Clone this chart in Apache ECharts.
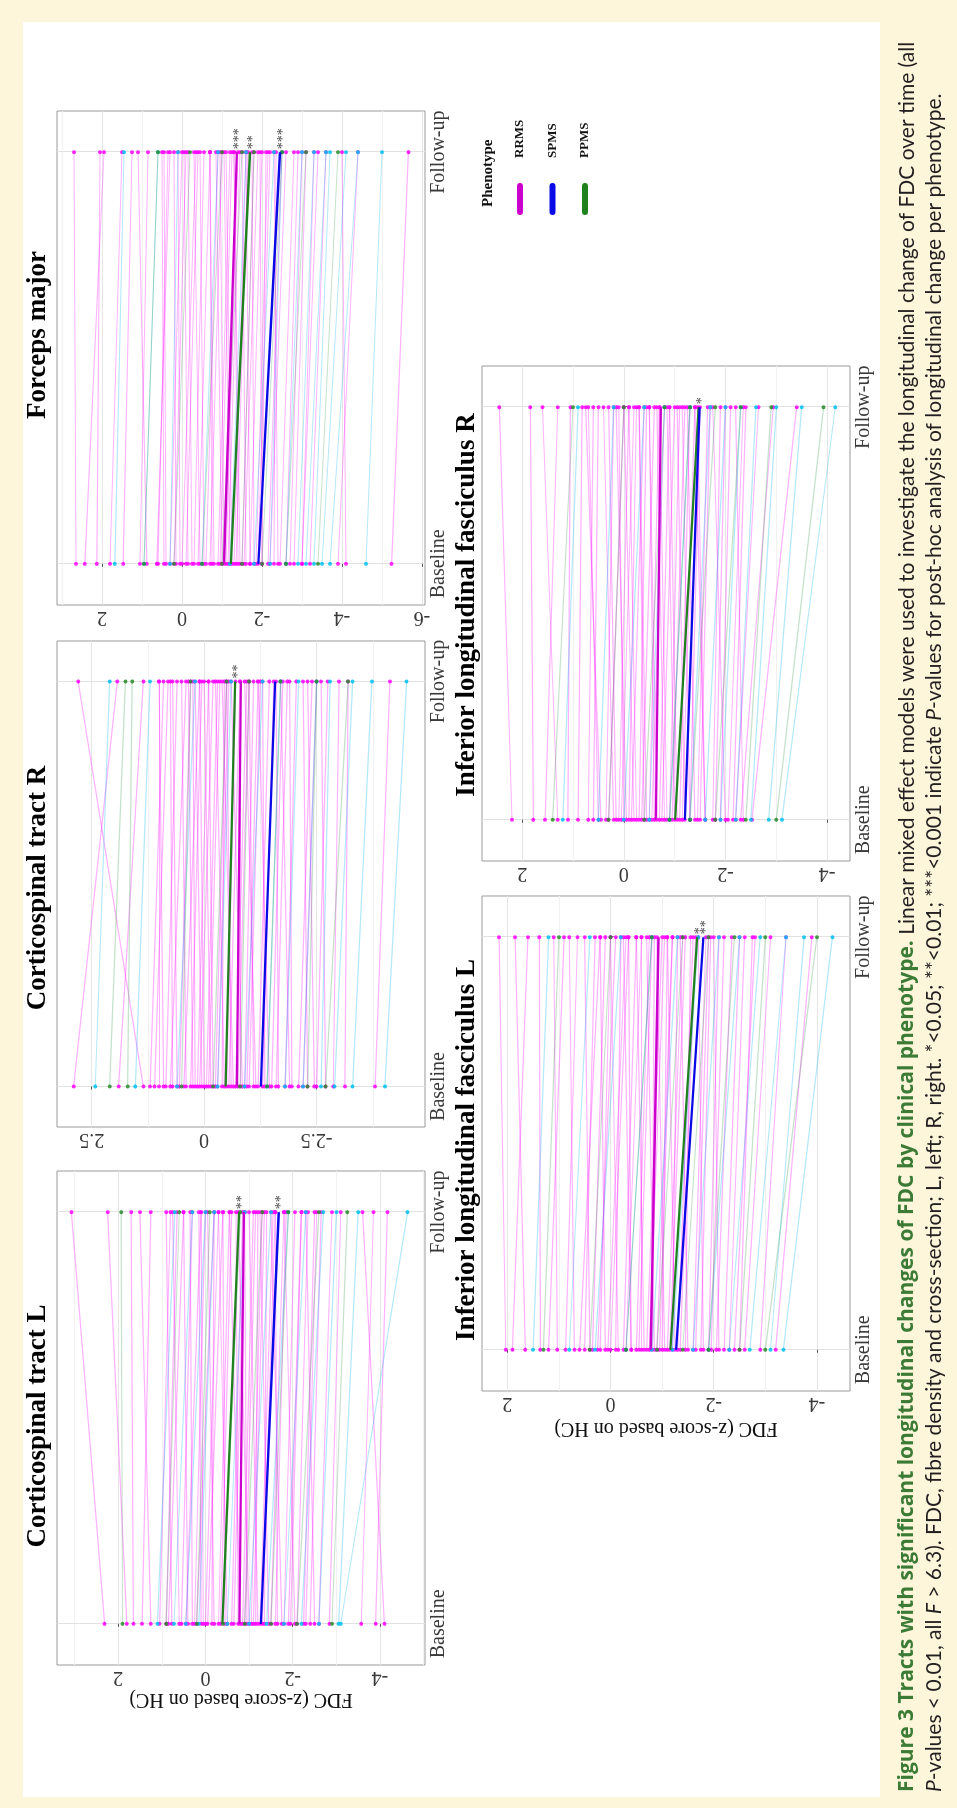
<!DOCTYPE html>
<html>
<head>
<meta charset="utf-8">
<script src="https://cdn.jsdelivr.net/npm/echarts@6/dist/echarts.min.js"></script>
<style>
html,body{margin:0;padding:0;width:957px;height:1808px;overflow:hidden;background:#fdf6db;}
#fig{position:absolute;left:0;top:0;width:1808px;height:957px;transform-origin:0 0;transform:translate(0px,1808px) rotate(-90deg);}
</style>
</head>
<body>
<div id="fig"></div>
<script>
// ---------------- DATA ----------------
const timepoints = ['Baseline', 'Follow-up'];
const phenotypes = ['RRMS', 'SPMS', 'PPMS'];
const panelTitles = ['Corticospinal tract L', 'Corticospinal tract R', 'Forceps major',
                     'Inferior longitudinal fasciculus L', 'Inferior longitudinal fasciculus R'];
const yAxisTitle = 'FDC (z-score based on HC)';

// tick labels per panel
const ticksCstL = [-4, -2, 0, 2];
const ticksCstR = [-2.5, 0, 2.5];
const ticksFm = [-6, -4, -2, 0, 2];
const ticksIlfL = [-4, -2, 0, 2];
const ticksIlfR = [-4, -2, 0, 2];

// Corticospinal tract L: individual subjects (baseline / follow-up)
const cstL_RRMS_base = [2.31, 1.8, 1.65, 1.45, 1.25, 1.05, 0.9, 0.77, 0.55, 0.4, 0.25, 0.1, 0.0, -0.15, -0.3, -0.45, -0.6, -0.75, -0.85, -0.95, -1.05, -1.15, -1.25, -1.35, -1.5, -1.65, -1.8, -1.95, -2.1, -2.25, -2.4, -2.6, -2.84, -3.57, -3.9, -4.1,
  0.85, 0.6, 0.45, 0.3, 0.2, 0.05, -0.05, -0.2, -0.35, -0.5, -0.65, -0.8, -0.9, -1.0, -1.1, -1.2, -1.3, -1.45, -1.6, -1.75, -1.9, -2.05, -2.3, -2.5];
const cstL_RRMS_follow = [3.07, 2.24, 1.7, 1.25, 1.5, 0.8, 0.65, 0.9, 0.3, 0.5, 0.0, 0.15, -0.3, -0.2, -0.55, -0.4, -0.85, -0.7, -1.1, -0.9, -1.3, -1.2, -1.55, -1.4, -1.8, -1.6, -2.05, -2.2, -2.35, -2.5, -2.65, -2.9, -3.1, -3.85, -4.17, -3.6,
  0.5, 0.75, 0.1, 0.35, -0.2, 0.1, -0.4, -0.05, -0.6, -0.3, -0.9, -0.55, -1.15, -0.75, -1.35, -1.0, -1.6, -1.25, -1.85, -1.5, -2.2, -1.8, -2.55, -2.3];
const cstL_SPMS_base = [1.1, 0.72, 0.45, 0.15, -0.5, -1.0, -1.4, -1.8, -2.2, -2.6, -3.05, -3.1];
const cstL_SPMS_follow = [0.7, 0.3, 0.0, -0.2, -0.9, -1.5, -1.9, -2.3, -2.7, -3.0, -3.5, -4.63];
const cstL_PPMS_base = [1.9, 0.9, 0.2, -0.4, -0.9, -1.5, -2.1, -2.9];
const cstL_PPMS_follow = [1.93, 0.6, -0.1, -0.8, -1.3, -1.9, -2.6, -3.25];
// model means [baseline, follow-up]
const cstL_mean_RRMS = [-0.78, -0.88];
const cstL_mean_SPMS = [-1.27, -1.68];
const cstL_mean_PPMS = [-0.39, -0.77];
const cstL_stars = ['', '**', '**']; // RRMS, SPMS, PPMS

// Corticospinal tract R
const cstR_RRMS_base = [2.9, 1.9, 1.35, 1.2, 1.0, 0.85, 0.7, 0.55, 0.4, 0.3, 0.2, 0.1, 0.0, -0.1, -0.2, -0.3, -0.4, -0.5, -0.6, -0.7, -0.8, -0.9, -1.0, -1.1, -1.2, -1.35, -1.5, -1.65, -1.8, -1.95, -2.1, -2.3, -2.5, -2.7, -2.87, -3.13, -3.8,
  1.1, 0.9, 0.75, 0.6, 0.45, 0.25, 0.15, 0.05, -0.05, -0.15, -0.25, -0.45, -0.55, -0.65, -0.75, -0.85, -0.95, -1.15, -1.3, -1.45, -1.6, -1.9, -2.2, -2.45];
const cstR_RRMS_follow = [1.93, 1.35, 2.8, 0.9, 1.0, 0.6, 0.75, 0.3, 0.5, 0.05, 0.25, -0.2, 0.1, -0.35, -0.1, -0.55, -0.45, -0.7, -0.5, -0.95, -0.8, -1.1, -1.25, -1.0, -1.45, -1.3, -1.75, -1.6, -2.05, -1.9, -2.4, -2.2, -2.75, -2.6, -3.0, -3.2, -4.13,
  0.8, 1.0, 0.4, 0.7, 0.1, 0.35, -0.1, 0.2, -0.3, 0.0, -0.5, -0.25, -0.8, -0.4, -1.0, -0.6, -1.2, -0.9, -1.55, -1.2, -1.85, -1.7, -2.5, -2.3];
const cstR_SPMS_base = [2.42, 1.53, 0.6, -0.3, -0.9, -1.4, -1.8, -2.2, -2.6, -2.9, -3.3, -4.02];
const cstR_SPMS_follow = [2.1, 1.2, 0.2, -0.6, -1.3, -1.7, -2.1, -2.5, -2.8, -3.3, -3.73, -4.5];
const cstR_PPMS_base = [2.1, 1.7, 0.5, -0.2, -0.8, -1.4, -2.3, -2.7];
const cstR_PPMS_follow = [1.75, 1.6, 0.3, -0.5, -1.0, -1.7, -2.5, -3.2];
const cstR_mean_RRMS = [-0.73, -0.815];
const cstR_mean_SPMS = [-1.26, -1.58];
const cstR_mean_PPMS = [-0.48, -0.69];
const cstR_stars = ['', '', '**'];

// Forceps major
const fm_RRMS_base = [2.65, 2.43, 2.13, 1.8, 1.47, 1.05, 0.88, 0.6, 0.45, 0.3, 0.15, 0.0, -0.15, -0.3, -0.45, -0.6, -0.75, -0.9, -1.0, -1.1, -1.2, -1.3, -1.4, -1.5, -1.6, -1.7, -1.8, -1.9, -2.0, -2.15, -2.3, -2.45, -2.6, -2.8, -3.0, -3.2, -3.9, -4.1, -5.24,
  0.63, 0.4, 0.2, 0.05, -0.1, -0.25, -0.4, -0.55, -0.7, -0.8, -0.95, -1.05, -1.15, -1.25, -1.35, -1.45, -1.55, -1.7, -1.85, -2.0, -2.2, -2.4, -2.7, -3.0];
const fm_RRMS_follow = [2.7, 1.95, 2.05, 1.5, 1.25, 0.85, 1.1, 0.35, 0.5, 0.0, 0.2, -0.35, -0.05, -0.55, -0.3, -0.9, -0.7, -1.2, -0.85, -1.4, -1.05, -1.6, -1.3, -1.8, -1.5, -2.0, -1.75, -2.2, -2.1, -2.5, -2.35, -2.8, -2.9, -3.1, -3.4, -3.6, -4.4, -4.0, -5.66,
  0.3, 0.45, -0.1, 0.1, -0.4, -0.15, -0.7, -0.45, -1.0, -0.7, -1.25, -0.95, -1.45, -1.1, -1.65, -1.3, -1.9, -1.6, -2.15, -1.95, -2.6, -2.3, -3.0, -3.3];
const fm_SPMS_base = [1.68, 0.95, 0.3, -0.5, -1.2, -1.8, -2.2, -2.6, -2.9, -3.1, -3.3, -3.5, -3.7, -4.6];
const fm_SPMS_follow = [1.45, 0.6, 0.1, -0.9, -1.6, -2.3, -2.5, -3.0, -3.3, -3.6, -3.7, -4.1, -4.4, -5.0];
const fm_PPMS_base = [0.95, 0.2, -0.5, -1.0, -1.5, -2.0, -2.6, -3.4];
const fm_PPMS_follow = [0.6, -0.2, -1.0, -1.5, -1.8, -2.5, -3.1, -3.9];
const fm_mean_RRMS = [-1.05, -1.37];
const fm_mean_SPMS = [-1.91, -2.45];
const fm_mean_PPMS = [-1.22, -1.70];
const fm_stars = ['***', '***', '**'];

// Inferior longitudinal fasciculus L
const ilfL_RRMS_base = [2.03, 1.9, 1.65, 1.36, 1.2, 1.03, 0.87, 0.7, 0.5, 0.35, 0.2, 0.05, -0.1, -0.25, -0.4, -0.5, -0.6, -0.7, -0.8, -0.9, -1.0, -1.1, -1.2, -1.3, -1.45, -1.6, -1.75, -1.9, -2.05, -2.2, -2.4, -2.6, -2.9, -3.2,
  0.6, 0.4, 0.25, 0.1, 0.0, -0.15, -0.3, -0.4, -0.55, -0.65, -0.75, -0.85, -0.95, -1.05, -1.15, -1.25, -1.35, -1.5, -1.65, -1.8, -1.95, -2.1, -2.3, -2.5];
const ilfL_RRMS_follow = [2.16, 1.6, 1.85, 1.38, 0.9, 1.1, 0.64, 0.8, 0.3, 0.1, 0.0, -0.3, -0.2, -0.5, -0.35, -0.75, -0.6, -1.0, -0.85, -1.2, -1.1, -1.4, -1.3, -1.6, -1.55, -1.85, -1.94, -2.1, -2.35, -2.5, -2.8, -3.1, -3.4, -3.9,
  0.2, 0.5, -0.1, 0.2, -0.35, 0.0, -0.6, -0.25, -0.8, -0.5, -1.05, -0.7, -1.2, -0.9, -1.45, -1.1, -1.65, -1.35, -1.9, -1.7, -2.2, -2.0, -2.6, -2.75];
const ilfL_SPMS_base = [1.5, 0.8, 0.3, -0.3, -0.8, -1.2, -1.6, -1.9, -2.3, -2.7, -3.1, -3.35];
const ilfL_SPMS_follow = [1.2, 0.4, -0.2, -0.8, -1.3, -1.7, -2.1, -2.5, -2.9, -3.4, -3.75, -4.3];
const ilfL_PPMS_base = [1.3, 0.4, -0.3, -0.9, -1.4, -1.9, -2.5, -3.0];
const ilfL_PPMS_follow = [1.0, 0.0, -0.8, -1.4, -1.9, -2.4, -3.0, -4.0];
const ilfL_mean_RRMS = [-0.78, -0.93];
const ilfL_mean_SPMS = [-1.27, -1.80];
const ilfL_mean_PPMS = [-1.16, -1.68];
const ilfL_stars = ['', '**', '*'];

// Inferior longitudinal fasciculus R
const ilfR_RRMS_base = [2.2, 1.78, 1.55, 1.3, 1.1, 0.9, 0.7, 0.5, 0.35, 0.2, 0.1, 0.0, -0.1, -0.2, -0.3, -0.4, -0.5, -0.6, -0.7, -0.8, -0.9, -1.0, -1.1, -1.2, -1.3, -1.4, -1.5, -1.6, -1.75, -1.9, -2.05, -2.2, -2.3, -2.52,
  0.6, 0.45, 0.3, 0.15, 0.05, -0.05, -0.15, -0.25, -0.35, -0.45, -0.55, -0.65, -0.75, -0.85, -0.95, -1.05, -1.15, -1.3, -1.45, -1.6, -1.8, -2.0, -2.15, -2.35];
const ilfR_RRMS_follow = [2.45, 1.84, 1.3, 1.6, 1.05, 0.82, 0.6, 0.7, 0.2, 0.4, -0.1, 0.1, -0.25, 0.0, -0.45, -0.3, -0.7, -0.5, -0.9, -0.65, -1.1, -0.85, -1.3, -1.05, -1.5, -1.25, -1.7, -1.45, -1.9, -2.1, -2.35, -2.65, -2.94, -3.4,
  0.5, 0.75, 0.0, 0.3, -0.2, 0.15, -0.4, -0.1, -0.6, -0.3, -0.8, -0.5, -1.0, -0.7, -1.2, -0.9, -1.4, -1.15, -1.65, -1.4, -2.0, -1.75, -2.4, -2.2];
const ilfR_SPMS_base = [1.2, 0.5, 0.0, -0.5, -0.9, -1.3, -1.6, -1.9, -2.2, -2.5, -2.85, -3.11];
const ilfR_SPMS_follow = [0.9, 0.2, -0.4, -0.8, -1.3, -1.7, -2.0, -2.3, -2.6, -3.0, -3.5, -4.16];
const ilfR_PPMS_base = [1.4, 0.3, -0.4, -0.9, -1.3, -1.8, -2.4, -3.0];
const ilfR_PPMS_follow = [1.0, 0.0, -0.8, -1.3, -1.8, -2.3, -2.9, -3.93];
const ilfR_mean_RRMS = [-0.63, -0.73];
const ilfR_mean_SPMS = [-1.20, -1.49];
const ilfR_mean_PPMS = [-1.01, -1.47];
const ilfR_stars = ['', '*', ''];

// ---------------- LAYOUT / STYLE ----------------
const SERIF = "'Liberation Serif', 'DejaVu Serif', serif";
const SANS = "Lato, 'Open Sans', sans-serif";
const SANS_BOLD = "'Open Sans', Lato, sans-serif";
const meanColor = ['#cc00cc', '#0a0ae6', '#1f821f'];
const indivColor = ['#ff00ff', '#00b4f0', '#3c9a50'];
const indivOpacity = [0.3, 0.3, 0.3];
const dotColor = ['#ff00ff', '#00c0f0', '#2a8a2a'];

const panels = [
  {title: panelTitles[0], ticks: ticksCstL, left: 143, top: 57, width: 494, height: 368, ymin: -5.03, ymax: 3.40, titleX: 382, titleY: 23, yName: true, nameGap: 24,
   subj: [[cstL_RRMS_base, cstL_RRMS_follow], [cstL_SPMS_base, cstL_SPMS_follow], [cstL_PPMS_base, cstL_PPMS_follow]],
   means: [cstL_mean_RRMS, cstL_mean_SPMS, cstL_mean_PPMS], stars: cstL_stars},
  {title: panelTitles[1], ticks: ticksCstR, left: 681, top: 57, width: 486, height: 368, ymin: -4.91, ymax: 3.27, titleX: 920, titleY: 23, yName: false,
   subj: [[cstR_RRMS_base, cstR_RRMS_follow], [cstR_SPMS_base, cstR_SPMS_follow], [cstR_PPMS_base, cstR_PPMS_follow]],
   means: [cstR_mean_RRMS, cstR_mean_SPMS, cstR_mean_PPMS], stars: cstR_stars},
  {title: panelTitles[2], ticks: ticksFm, left: 1203, top: 57, width: 494, height: 368, ymin: -6.075, ymax: 3.125, titleX: 1473, titleY: 23, yName: false,
   subj: [[fm_RRMS_base, fm_RRMS_follow], [fm_SPMS_base, fm_SPMS_follow], [fm_PPMS_base, fm_PPMS_follow]],
   means: [fm_mean_RRMS, fm_mean_SPMS, fm_mean_PPMS], stars: fm_stars},
  {title: panelTitles[3], ticks: ticksIlfL, left: 417, top: 482, width: 495, height: 368, ymin: -4.64, ymax: 2.49, titleX: 658, titleY: 452, yName: true, nameGap: 27,
   subj: [[ilfL_RRMS_base, ilfL_RRMS_follow], [ilfL_SPMS_base, ilfL_SPMS_follow], [ilfL_PPMS_base, ilfL_PPMS_follow]],
   means: [ilfL_mean_RRMS, ilfL_mean_SPMS, ilfL_mean_PPMS], stars: ilfL_stars},
  {title: panelTitles[4], ticks: ticksIlfR, left: 947, top: 482, width: 495, height: 368, ymin: -4.45, ymax: 2.79, titleX: 1203, titleY: 452, yName: false,
   subj: [[ilfR_RRMS_base, ilfR_RRMS_follow], [ilfR_SPMS_base, ilfR_SPMS_follow], [ilfR_PPMS_base, ilfR_PPMS_follow]],
   means: [ilfR_mean_RRMS, ilfR_mean_SPMS, ilfR_mean_PPMS], stars: ilfR_stars}
];

function minorValues(ticks, lo, hi) {
  const step = ticks[1] - ticks[0];
  const out = [];
  const start = Math.floor(lo / step) * step - step / 2;
  for (let v = start; v <= hi + 1e-9; v += step) {
    const r = Math.round(v * 1000) / 1000;
    if (r > lo && r < hi) out.push(r);
  }
  return out;
}

const grids = [], xAxes = [], yAxes = [], series = [], titles = [];
panels.forEach((p, i) => {
  grids.push({left: p.left, top: p.top, width: p.width, height: p.height, show: true,
    borderColor: '#9a9a9a', borderWidth: 1, backgroundColor: 'transparent'});
  xAxes.push({gridIndex: i, type: 'value', min: -0.1, max: 1.1,
    axisLine: {show: false},
    axisTick: {show: true, length: 3, customValues: [0, 1], lineStyle: {color: '#555'}},
    axisLabel: {customValues: [0, 1], formatter: v => timepoints[Math.round(v)], margin: 4,
      fontFamily: SERIF, fontSize: 20, color: '#3a3a3a'},
    splitLine: {show: true, lineStyle: {color: '#e2e2e2', width: 1}}});
  yAxes.push({gridIndex: i, type: 'value', min: p.ymin, max: p.ymax,
    axisLine: {show: false},
    axisTick: {show: true, length: 3, customValues: p.ticks, lineStyle: {color: '#555'}},
    axisLabel: {customValues: p.ticks, rotate: 90, margin: 2, fontFamily: SERIF, fontSize: 20, color: '#3a3a3a',
      formatter: v => String(v)},
    splitLine: {show: true, lineStyle: {color: '#e6e6e6', width: 1}},
    name: p.yName ? yAxisTitle : '', nameLocation: 'middle', nameRotate: 90, nameGap: p.nameGap || 20,
    nameTextStyle: {fontFamily: SERIF, fontSize: 20, color: '#111'}});
  yAxes.push({gridIndex: i, type: 'value', min: p.ymin, max: p.ymax,
    axisLine: {show: false}, axisLabel: {show: false},
    axisTick: {show: false, customValues: minorValues(p.ticks, p.ymin, p.ymax)},
    splitLine: {show: true, lineStyle: {color: '#f1f1f1', width: 1}}});
  const yi = 2 * i;
  titles.push({text: p.title, left: p.titleX, top: p.titleY, textAlign: 'center', padding: 0,
    textStyle: {fontFamily: SERIF, fontWeight: 'bold', fontSize: 27, lineHeight: 30, color: '#000'}});

  phenotypes.forEach((ph, k) => {
    const B = p.subj[k][0], F = p.subj[k][1];
    const n = Math.min(B.length, F.length);
    const lineData = [], dots = [];
    for (let j = 0; j < n; j++) {
      lineData.push({coords: [[0, B[j]], [1, F[j]]]});
      dots.push([0, B[j]]); dots.push([1, F[j]]);
    }
    series.push({type: 'lines', name: ph + ' subject', coordinateSystem: 'cartesian2d', xAxisIndex: i, yAxisIndex: yi,
      silent: true, z: 1, data: lineData,
      lineStyle: {color: indivColor[k], width: 1.2, opacity: indivOpacity[k], curveness: 0}});
    series.push({type: 'scatter', name: ph + ' point', xAxisIndex: i, yAxisIndex: yi, silent: true, z: 2,
      symbolSize: 4, data: dots, itemStyle: {color: dotColor[k], opacity: 0.85}});
  });
  [0, 2, 1].forEach(k => {
    const m = p.means[k];
    const star = p.stars[k];
    series.push({type: 'line', name: phenotypes[k], xAxisIndex: i, yAxisIndex: yi, z: 5, silent: true,
      color: meanColor[k], showSymbol: false, symbol: 'none',
      data: [[0, m[0]], [1, m[1]]],
      lineStyle: {width: 2.3, color: meanColor[k]}, itemStyle: {color: meanColor[k]},
      endLabel: {show: !!star, formatter: star, distance: 3, offset: [0, 3],
        fontFamily: SERIF, fontSize: 14, color: '#444'}});
  });
});

titles.push({text: 'Phenotype', left: 1601, top: 479, padding: 0,
  textStyle: {fontFamily: SERIF, fontWeight: 'bold', fontSize: 15, lineHeight: 18, color: '#111'}});

const capLine1 = '{g|Figure 3 Tracts with significant longitudinal changes of FDC by clinical phenotype.}{n| Linear mixed effect models were used to investigate the longitudinal change of FDC over time (all}';
const capLine2 = '{i|P}{n|-values < 0.01, all }{i|F}{n| > 6.3). FDC, fibre density and cross-section; L, left; R, right. *<0.05; **<0.01; ***<0.001 indicate }{i|P}{n|-values for post-hoc analysis of longitudinal change per phenotype.}';
const capRich = {
  g: {fontFamily: SANS_BOLD, fontSize: 21, fontWeight: 'bold', fill: '#3b7b35'},
  n: {fontFamily: SANS, fontSize: 21, fill: '#231f20'},
  i: {fontFamily: SANS, fontSize: 21, fontStyle: 'italic', fill: '#231f20'}
};

const option = {
  animation: false,
  backgroundColor: 'transparent',
  title: titles,
  legend: {data: phenotypes, orient: 'vertical', left: 1593, top: 512, padding: 0,
    itemWidth: 32, itemHeight: 6, itemGap: 16.5, selectedMode: false,
    icon: 'path://M3,0 H29 A3,3 0 0 1 29,6 H3 A3,3 0 0 1 3,0 Z',
    textStyle: {fontFamily: SERIF, fontWeight: 'bold', fontSize: 13, lineHeight: 16, color: '#111', padding: [0, 0, 0, 20]}},
  grid: grids,
  xAxis: xAxes,
  yAxis: yAxes,
  series: series,
  graphic: [
    {type: 'rect', z: -10, silent: true, shape: {x: 11, y: 23, width: 1775, height: 857}, style: {fill: '#ffffff'}},
    {type: 'text', z: 10, silent: true, x: 16, y: 907, style: {text: capLine1, rich: capRich, verticalAlign: 'middle', align: 'left', fontFamily: SANS, fontSize: 21}},
    {type: 'text', z: 10, silent: true, x: 16, y: 934, style: {text: capLine2, rich: capRich, verticalAlign: 'middle', align: 'left', fontFamily: SANS, fontSize: 21}}
  ]
};

const chart = echarts.init(document.getElementById('fig'), null, {renderer: 'canvas', width: 1808, height: 957});
chart.setOption(option);
</script>
</body>
</html>
